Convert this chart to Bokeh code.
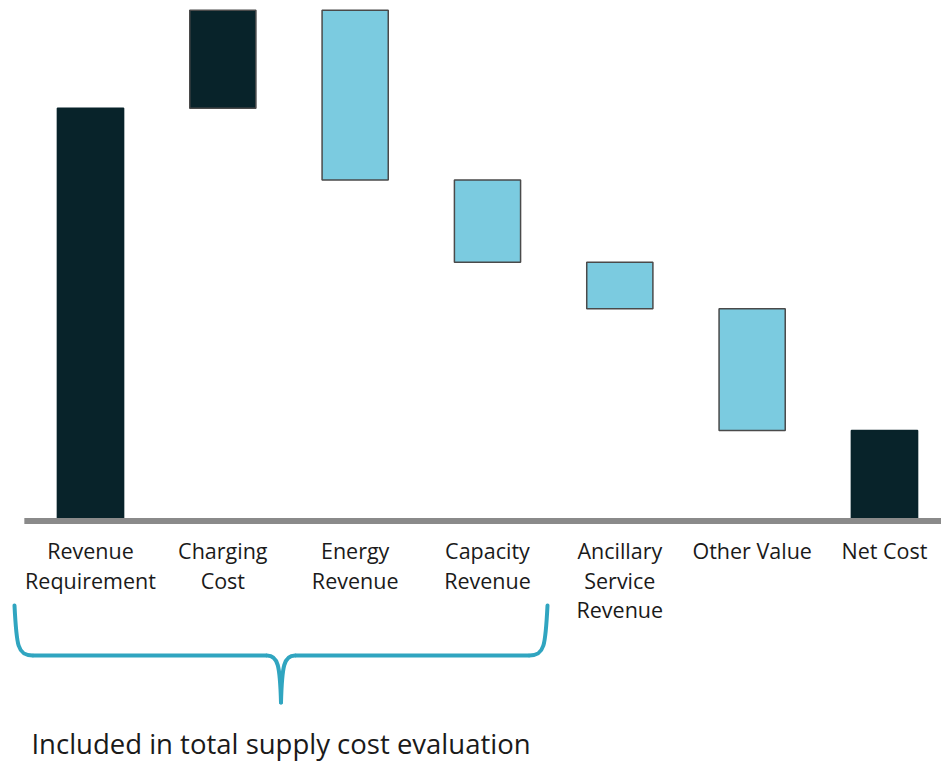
import numpy as np
from bokeh.plotting import figure
from bokeh.models import Range1d
from bokeh.core.properties import value
from bokeh.embed import file_html
from bokeh.resources import INLINE

# ---- data ----
categories = ["Revenue\nRequirement", "Charging\nCost", "Energy\nRevenue",
              "Capacity\nRevenue", "Ancillary\nService\nRevenue", "Other Value", "Net Cost"]
start_total = 100.0
deltas = [23.7, -41.1, -19.9, -11.3, -29.5]   # Charging .. Other Value
kinds = ["total", "cost", "revenue", "revenue", "revenue", "revenue", "total"]
brace_label = "Included in total supply cost evaluation"

# ---- layout helpers (pixel geometry) ----
W, H = 941, 763
ORG = 0
PXX = 132.33            # pixels per category
PXY = 4.128             # pixels per value unit
x_start = -(90 - ORG) / PXX
x_end = x_start + W / PXX
y_end = (520.5 - ORG) / PXY
y_start = y_end - H / PXY
TXT_SHIFT = 8           # empirical baseline correction

def px2x(px):
    return (px - 90) / PXX

def px2y(py):
    return (520.5 - py) / PXY

# ---- waterfall geometry ----
n = len(categories)
bottoms, tops = [0.0], [start_total]
level = start_total
for d in deltas:
    new = level + d
    bottoms.append(min(level, new)); tops.append(max(level, new))
    level = new
bottoms.append(0.0); tops.append(level)

xs = np.arange(n)
half = 0.25
fill = {"total": "#08232A", "cost": "#08232A", "revenue": "#7BCBE0"}
outline = {"total": "#08232A", "cost": "#4A4A4A", "revenue": "#4A4A4A"}

p = figure(width=W, height=H, output_backend="svg", toolbar_location=None,
           x_range=Range1d(x_start, x_end), y_range=Range1d(y_start, y_end),
           min_border=0)
p.axis.visible = False
p.grid.visible = False
p.outline_line_color = None
p.background_fill_color = "white"

p.quad(left=xs - half, right=xs + half, bottom=bottoms, top=tops,
       fill_color=[fill[k] for k in kinds], line_color=[outline[k] for k in kinds],
       line_width=1.5)

# baseline
p.segment(x0=[-0.5], y0=[0], x1=[x_end + 1], y1=[0], line_color="#8A8A8A", line_width=6)

# category labels
FONT = value("Open Sans")
lx, ly, lt = [], [], []
for i, c in enumerate(categories):
    for j, line in enumerate(c.split("\n")):
        lx.append(i); ly.append(px2y(558 - TXT_SHIFT + 29.5 * j)); lt.append(line)
p.text(x=lx, y=ly, text=lt, text_align="center", text_baseline="alphabetic",
       text_font=FONT, text_font_size="21.5px", text_color="#1A1A1A")

# brace
bc = "#30A5C0"
lpx, rpx = 14, 547
Mpx = (lpx + rpx) / 2
top_y, hor_y, tip_y = 605, 655, 702
def bez(p0, c0, c1, p1):
    p.bezier(x0=[px2x(p0[0])], y0=[px2y(p0[1])], x1=[px2x(p1[0])], y1=[px2y(p1[1])],
             cx0=[px2x(c0[0])], cy0=[px2y(c0[1])], cx1=[px2x(c1[0])], cy1=[px2y(c1[1])],
             line_color=bc, line_width=4, line_cap="round")
bez((lpx, top_y), (lpx + 2, 645), (lpx + 3, hor_y), (lpx + 18, hor_y))
bez((rpx, top_y), (rpx - 2, 645), (rpx - 3, hor_y), (rpx - 18, hor_y))
p.segment(x0=[px2x(lpx + 18), px2x(Mpx + 14)], y0=[px2y(hor_y)] * 2,
          x1=[px2x(Mpx - 14), px2x(rpx - 18)], y1=[px2y(hor_y)] * 2,
          line_color=bc, line_width=4)
bez((Mpx - 14, hor_y), (Mpx - 3, hor_y), (Mpx - 1, 665), (Mpx, tip_y))
bez((Mpx + 14, hor_y), (Mpx + 3, hor_y), (Mpx + 1, 665), (Mpx, tip_y))

p.text(x=[px2x(Mpx)], y=[px2y(751 - TXT_SHIFT)], text=[brace_label], text_align="center",
       text_baseline="alphabetic", text_font=FONT, text_font_size="27.5px",
       text_color="#1A1A1A")

open("out.html", "w").write(file_html(p, INLINE))
